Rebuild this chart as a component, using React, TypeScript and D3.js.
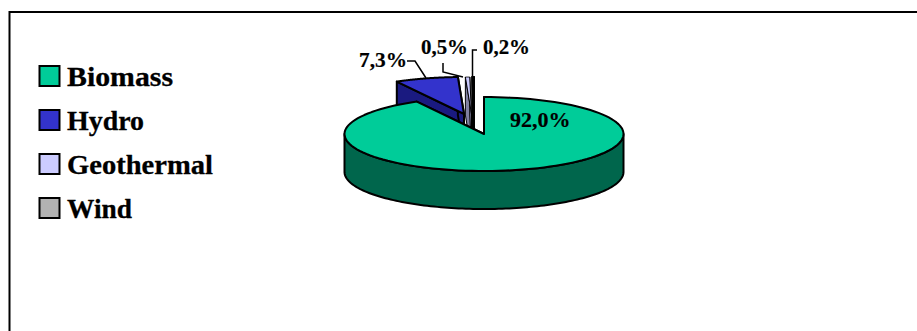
import React from "react";
import * as d3 from "d3";

const categories = ["Biomass", "Hydro", "Geothermal", "Wind"];
const shares = [92.0, 7.3, 0.5, 0.2];
const shareLabels = ["92,0%", "7,3%", "0,5%", "0,2%"];
const topColors = ["#00CC99", "#3333CC", "#CCCCFF", "#B2B2B2"];
const sideColors = ["#00664C", "#1A1A80", "#8080A0", "#000000"];
// Pull-out of each slice from the pie centre, in pixels.
const pullX = [0, -20, -12.5, -10];
const pullY = [0, -20, -20, -20];
// The narrow geothermal slice gets a finer outline so its fill stays visible.
const outlineWidths = [2, 2, 1, 2];
// Set widths keep the hinted words at their drawn length.
const legendWidths = [106, 77, 146, 65];
const shareLabelWidths = [60.5, 48, 47, 47];
const shareLabelX = [510, 359, 421, 483];
const shareLabelY = [127, 67, 54, 54];

const WIDTH = 917;
const HEIGHT = 331;
const CX = 484;
const CY = 134;
const RX = 139.5;
const RY = 37;
const DEPTH = 38;
const FONT = "'Liberation Serif', 'Times New Roman', serif";

type Point = [number, number];

const arcs = d3
  .pie<number>()
  .sort(null)
  .startAngle(0)
  .endAngle(2 * Math.PI)(shares);

const onRim = (a: number, dx: number, dy: number): Point => [
  CX + dx + RX * Math.sin(a),
  CY + dy - RY * Math.cos(a),
];

const rimPoints = (a0: number, a1: number, dx: number, dy: number): Point[] =>
  d3.range(0, 121).map((i) => onRim(a0 + ((a1 - a0) * i) / 120, dx, dy));

const line = d3.line<Point>();

export default function App() {
  const order = [3, 2, 1, 0];
  return (
    <svg
      width={WIDTH}
      height={HEIGHT}
      style={{ position: "absolute", left: 0, top: 0, background: "#fff" }}
    >
      <path d="M9.5 331V12H917" fill="none" stroke="#000" strokeWidth={2} />

      {order.map((i) => {
        const { startAngle: a0, endAngle: a1 } = arcs[i];
        const dx = pullX[i];
        const dy = pullY[i];
        const apex: Point = [CX + dx, CY + dy];
        const rim = rimPoints(a0, a1, dx, dy);
        const topFace = line([apex, ...rim])! + "Z";
        // Cut faces on both sides of the slice, then the outer wall where it faces the viewer.
        const cut = (p: Point) =>
          line([apex, p, [p[0], p[1] + DEPTH], [apex[0], apex[1] + DEPTH]])! + "Z";
        const wallStart = Math.max(a0, Math.PI / 2);
        const wallEnd = Math.min(a1, (3 * Math.PI) / 2);
        const wall =
          wallEnd > wallStart
            ? (() => {
                const w = rimPoints(wallStart, wallEnd, dx, dy);
                const low = w.map(([x, y]) => [x, y + DEPTH] as Point).reverse();
                return line([...w, ...low])! + "Z";
              })()
            : null;
        return (
          <g key={categories[i]} stroke="#000" strokeWidth={outlineWidths[i]} strokeLinejoin="round">
            <path d={cut(rim[0])} fill={sideColors[i]} />
            <path d={cut(rim[rim.length - 1])} fill={sideColors[i]} />
            {wall && <path d={wall} fill={sideColors[i]} />}
            <path d={topFace} fill={topColors[i]} />
          </g>
        );
      })}

      <g fill="none" stroke="#000" strokeWidth={1.5}>
        <path d="M407 61H415L426 78" />
        <path d="M443 63V72L463 77" />
        <path d="M477 50H472.5V77" />
      </g>

      <g fontFamily={FONT} fontWeight="bold" fontSize={22} fill="#000" stroke="#000" strokeWidth={0.2}>
        {shareLabels.map((label, i) => (
          <text
            key={label}
            x={shareLabelX[i]}
            y={shareLabelY[i]}
            textLength={shareLabelWidths[i]}
            lengthAdjust="spacingAndGlyphs"
          >
            {label}
          </text>
        ))}
      </g>

      {categories.map((c, i) => {
        const y = 76 + i * 44;
        return (
          <g key={c}>
            <rect x={39.5} y={y - 10} width={20} height={20} fill={topColors[i]} stroke="#000" strokeWidth={2} />
            <text
              x={67}
              y={y + 9.5}
              fontFamily={FONT}
              fontWeight="bold"
              fontSize={28}
              fill="#000"
              stroke="#000"
              strokeWidth={0.3}
              textLength={legendWidths[i]}
              lengthAdjust="spacingAndGlyphs"
            >
              {c}
            </text>
          </g>
        );
      })}
    </svg>
  );
}
